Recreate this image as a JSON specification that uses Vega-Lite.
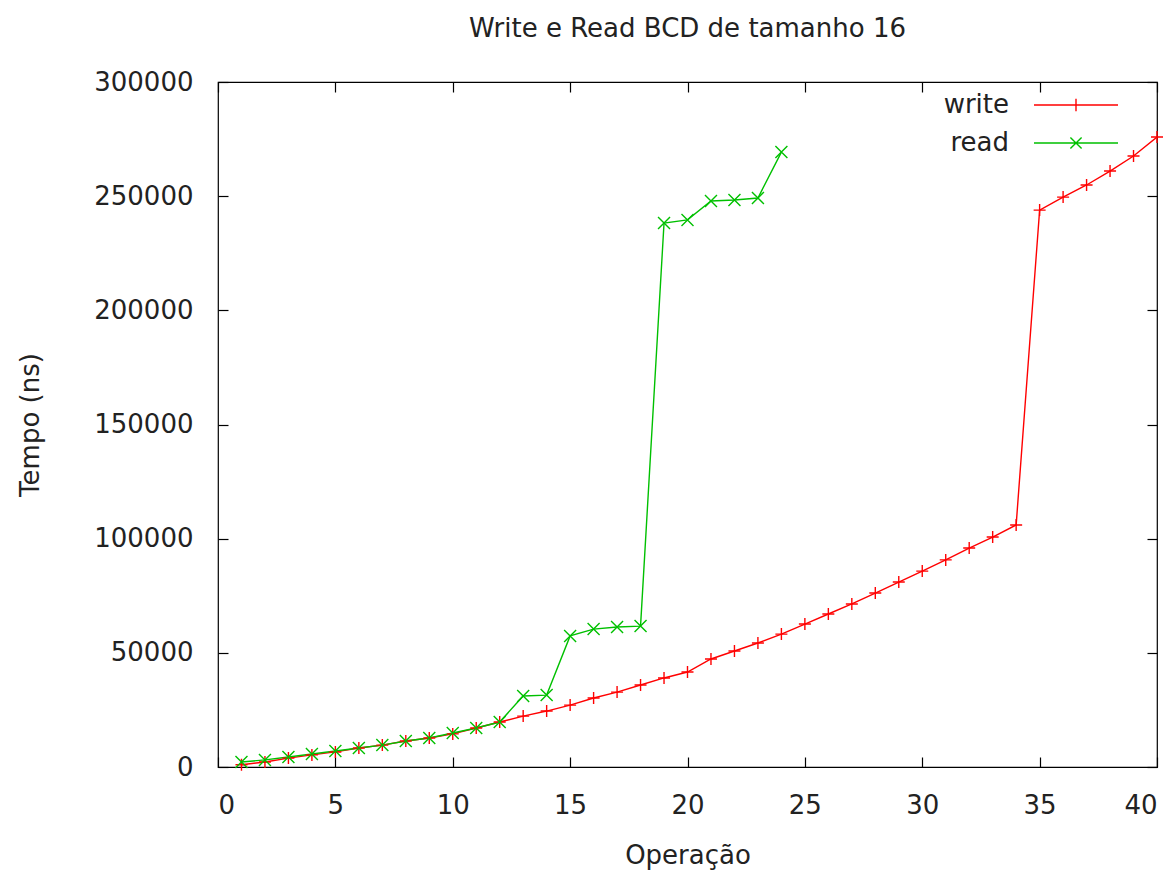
{
  "$schema": "https://vega.github.io/schema/vega-lite/v6.json",
  "autosize": "none",
  "width": 939,
  "height": 685,
  "padding": {"left": 218, "top": 82, "right": 18, "bottom": 104},
  "background": "white",
  "title": {"text": "Write e Read BCD de tamanho 16", "fontSize": 26, "fontWeight": "normal", "color": "#222", "font": "DejaVu Sans", "anchor": "middle", "offset": 27},
  "data": {"values": [
    {"op": 1, "t": 1000, "s": "write"},
    {"op": 2, "t": 2200, "s": "write"},
    {"op": 3, "t": 3900, "s": "write"},
    {"op": 4, "t": 5300, "s": "write"},
    {"op": 5, "t": 6600, "s": "write"},
    {"op": 6, "t": 8300, "s": "write"},
    {"op": 7, "t": 9600, "s": "write"},
    {"op": 8, "t": 11400, "s": "write"},
    {"op": 9, "t": 12700, "s": "write"},
    {"op": 10, "t": 14500, "s": "write"},
    {"op": 11, "t": 17100, "s": "write"},
    {"op": 12, "t": 19700, "s": "write"},
    {"op": 13, "t": 22300, "s": "write"},
    {"op": 14, "t": 24500, "s": "write"},
    {"op": 15, "t": 27100, "s": "write"},
    {"op": 16, "t": 30200, "s": "write"},
    {"op": 17, "t": 32800, "s": "write"},
    {"op": 18, "t": 35900, "s": "write"},
    {"op": 19, "t": 39000, "s": "write"},
    {"op": 20, "t": 41600, "s": "write"},
    {"op": 21, "t": 47300, "s": "write"},
    {"op": 22, "t": 50800, "s": "write"},
    {"op": 23, "t": 54300, "s": "write"},
    {"op": 24, "t": 58200, "s": "write"},
    {"op": 25, "t": 62600, "s": "write"},
    {"op": 26, "t": 67000, "s": "write"},
    {"op": 27, "t": 71400, "s": "write"},
    {"op": 28, "t": 76200, "s": "write"},
    {"op": 29, "t": 81000, "s": "write"},
    {"op": 30, "t": 85800, "s": "write"},
    {"op": 31, "t": 90700, "s": "write"},
    {"op": 32, "t": 95900, "s": "write"},
    {"op": 33, "t": 100700, "s": "write"},
    {"op": 34, "t": 106000, "s": "write"},
    {"op": 35, "t": 243900, "s": "write"},
    {"op": 36, "t": 249600, "s": "write"},
    {"op": 37, "t": 254900, "s": "write"},
    {"op": 38, "t": 261000, "s": "write"},
    {"op": 39, "t": 267600, "s": "write"},
    {"op": 40, "t": 275900, "s": "write"},
    {"op": 1, "t": 2200, "s": "read"},
    {"op": 2, "t": 3100, "s": "read"},
    {"op": 3, "t": 4400, "s": "read"},
    {"op": 4, "t": 5700, "s": "read"},
    {"op": 5, "t": 7000, "s": "read"},
    {"op": 6, "t": 8300, "s": "read"},
    {"op": 7, "t": 9600, "s": "read"},
    {"op": 8, "t": 11400, "s": "read"},
    {"op": 9, "t": 12700, "s": "read"},
    {"op": 10, "t": 14900, "s": "read"},
    {"op": 11, "t": 17100, "s": "read"},
    {"op": 12, "t": 19700, "s": "read"},
    {"op": 13, "t": 31100, "s": "read"},
    {"op": 14, "t": 31500, "s": "read"},
    {"op": 15, "t": 57400, "s": "read"},
    {"op": 16, "t": 60400, "s": "read"},
    {"op": 17, "t": 61300, "s": "read"},
    {"op": 18, "t": 61700, "s": "read"},
    {"op": 19, "t": 238200, "s": "read"},
    {"op": 20, "t": 239600, "s": "read"},
    {"op": 21, "t": 247900, "s": "read"},
    {"op": 22, "t": 248300, "s": "read"},
    {"op": 23, "t": 249200, "s": "read"},
    {"op": 24, "t": 269300, "s": "read"}
  ]},
  "layer": [
    {
      "mark": {"type": "line", "strokeWidth": 1.4, "clip": true},
      "encoding": {
        "x": {"field": "op", "type": "quantitative", "scale": {"domain": [0, 40], "nice": false}, "title": "Operação",
              "axis": {"orient": "bottom", "values": [0,5,10,15,20,25,30,35,40], "ticks": false, "labelPadding": 25, "titlePadding": 24}},
        "y": {"field": "t", "type": "quantitative", "scale": {"domain": [0, 300000], "nice": false}, "title": "Tempo (ns)",
              "axis": {"orient": "left", "format": "d", "values": [0,50000,100000,150000,200000,250000,300000], "ticks": false, "labelPadding": 25, "titlePadding": 50}},
        "color": {"field": "s", "type": "nominal", "scale": {"domain": ["write", "read"], "range": ["#ff0000", "#00c000"]},
                  "legend": {"orient": "none", "legendX": 843, "legendY": 8, "title": null, "padding": 0, "labelFontSize": 26, "labelColor": "#222", "labelFont": "DejaVu Sans", "labelAlign": "right", "labelOffset": -82, "rowPadding": 10, "symbolSize": 784, "symbolStrokeWidth": 1.4, "symbolFillColor": "transparent", "symbolOpacity": 1, "symbolType": "M-3,0L3,0",
                             "encode": {"symbols": {"update": {"shape": {"signal": "datum.value === 'write' ? 'M-3,0L3,0M0,-0.45L0,0.45' : 'M-3,0L3,0M-0.4,-0.4L0.4,0.4M-0.4,0.4L0.4,-0.4'"}}}}}},
        "detail": {"field": "s"}
      }
    },
    {
      "transform": [{"filter": "datum.s === 'write'"}],
      "mark": {"type": "point", "filled": false, "strokeWidth": 1.4, "size": 144, "opacity": 1, "shape": "M-1,0L1,0M0,-1L0,1"},
      "encoding": {
        "x": {"field": "op", "type": "quantitative", "axis": {"orient": "top", "values": [0,5,10,15,20,25,30,35,40], "ticks": true, "tickSize": -10, "labels": false, "title": null}},
        "y": {"field": "t", "type": "quantitative", "axis": {"orient": "right", "values": [0,50000,100000,150000,200000,250000,300000], "ticks": true, "tickSize": -10, "labels": false, "title": null}},
        "color": {"field": "s", "type": "nominal"}
      }
    },
    {
      "transform": [{"filter": "datum.s === 'read'"}],
      "mark": {"type": "point", "filled": false, "strokeWidth": 1.4, "size": 144, "opacity": 1, "shape": "M-1,-1L1,1M-1,1L1,-1"},
      "encoding": {
        "x": {"field": "op", "type": "quantitative", "axis": {"orient": "bottom", "values": [0,5,10,15,20,25,30,35,40], "ticks": true, "tickSize": 10, "offset": -10, "labels": false, "title": null}},
        "y": {"field": "t", "type": "quantitative", "axis": {"orient": "left", "values": [0,50000,100000,150000,200000,250000,300000], "ticks": true, "tickSize": 10, "offset": -10, "labels": false, "title": null}},
        "color": {"field": "s", "type": "nominal"}
      }
    }
  ],
  "resolve": {"axis": {"x": "independent", "y": "independent"}},
  "config": {
    "font": "DejaVu Sans",
    "view": {"stroke": "#000", "strokeWidth": 1.2},
    "axis": {"grid": false, "domain": false, "zindex": 1, "tickColor": "#000", "tickWidth": 1.2, "labelColor": "#222", "titleColor": "#222", "labelFont": "DejaVu Sans", "titleFont": "DejaVu Sans", "labelFontSize": 26, "titleFontSize": 26, "titleFontWeight": "normal"}
  }
}
